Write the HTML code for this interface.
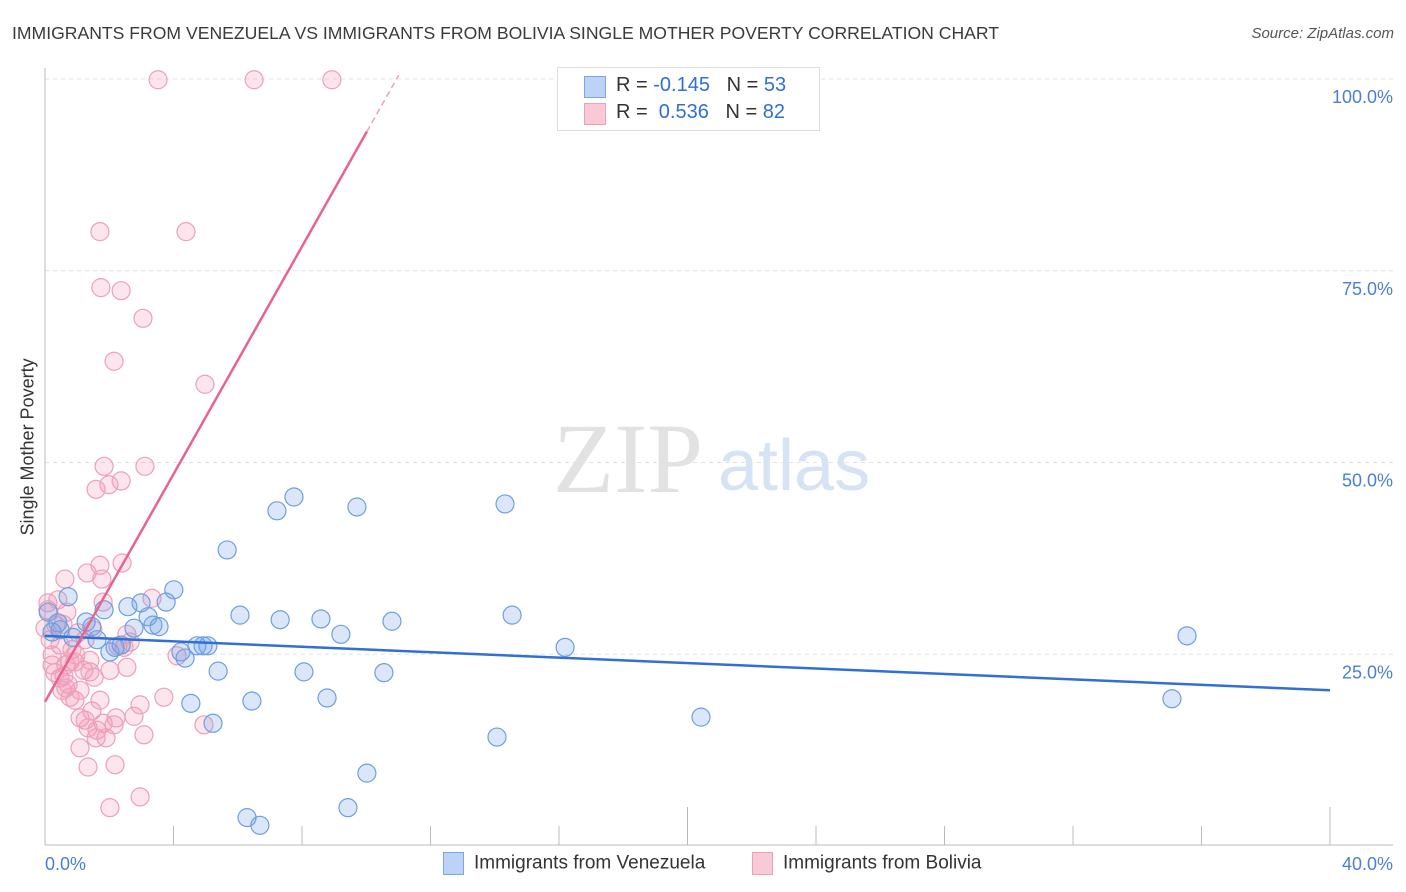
<!DOCTYPE html>
<html><head><meta charset="utf-8">
<style>
body{margin:0;background:#fff;font-family:"Liberation Sans",sans-serif;}
#wrap{position:relative;width:1406px;height:892px;overflow:hidden;}
.t{position:absolute;white-space:nowrap;}
</style></head>
<body>
<div id="wrap">
<div class="t" style="left:12px;top:23px;font-size:17.6px;color:#3a3a3a;">IMMIGRANTS FROM VENEZUELA VS IMMIGRANTS FROM BOLIVIA SINGLE MOTHER POVERTY CORRELATION CHART</div>
<div class="t" style="right:12px;top:25px;font-size:15px;color:#555;font-style:italic;">Source: ZipAtlas.com</div>
<svg id="svg" width="1406" height="892" style="position:absolute;left:0;top:0"></svg>
</div>
<script>
const xTicks=[0,4,8,12,16,20,24,28,32,36,40];
const yTicks=[25,50,75,100];
const yTickLabels=["25.0%","50.0%","75.0%","100.0%"];
const venX=[0.72,0.40,0.87,1.28,1.46,1.62,1.84,2.02,2.18,2.37,2.58,2.77,2.99,3.21,3.36,3.55,3.77,4.01,4.23,4.36,4.54,4.73,4.92,5.07,5.23,5.39,5.67,6.07,6.44,6.29,6.69,7.22,7.32,7.75,8.06,8.59,8.78,9.21,9.43,9.71,10.02,10.55,10.80,14.07,14.32,14.54,16.19,20.42,35.08,35.55,0.22,0.47,0.1];
const venY=[32.5,29.1,27.2,29.2,28.6,26.9,30.8,25.3,25.9,26.2,31.2,28.4,31.7,29.9,28.8,28.6,31.8,33.4,25.3,24.5,18.6,26.1,26.1,26.1,16.0,22.8,38.6,30.1,18.9,3.7,2.7,43.7,29.5,45.5,22.7,29.6,19.3,27.6,5.0,44.2,9.5,22.6,29.3,14.2,44.6,30.1,25.9,16.8,19.2,27.4,27.9,28.2,30.5];
const bolX=[3.52,6.51,8.93,1.71,4.39,1.74,2.37,3.05,2.15,4.98,1.84,3.11,1.99,1.59,2.37,1.31,1.71,0.62,1.77,2.40,3.33,0.09,1.81,0.68,1.49,2.55,0.16,0.34,0.47,0,2.65,1.03,2.46,2.27,0.96,0.78,0.65,0.93,1.21,1.40,1.53,0.31,0.47,0.59,0.72,0.53,0.78,0.93,2.55,1.09,1.25,1.46,1.34,1.62,1.59,1.81,2.15,1.90,2.21,2.77,2.96,3.08,3.70,4.11,4.95,1.09,1.34,2.18,2.02,2.96,0.56,0.09,0.22,0.40,1.25,0.84,2.02,1.09,0.65,1.71,0.22,1.40];
const bolY=[99.9,99.9,99.9,80.1,80.1,72.8,72.4,68.8,63.2,60.2,49.5,49.5,47.1,46.5,47.6,35.6,36.6,34.8,34.8,36.9,32.3,31.7,31.8,30.5,28.2,27.6,26.9,28.8,26.2,28.4,26.6,27.8,25.9,26.1,24.9,24.0,23.6,24.0,22.9,22.7,22.0,22.6,21.9,22.2,21.1,20.3,19.4,19.0,23.3,16.7,16.4,17.6,15.4,15.1,14.1,16.0,15.8,14.1,16.7,16.9,18.4,14.5,19.4,24.8,15.8,12.8,10.3,10.6,5.0,6.4,28.9,30.8,24.9,32.1,26.9,25.6,22.9,20.3,20.6,19.0,23.6,24.2];
const venTrend=[27.4,20.3]; // y at x=0, x=40
const bolTrend=[18.8,7.42]; // intercept, slope

const NS="http://www.w3.org/2000/svg";
const svg=document.getElementById('svg');
const X=v=>45+v/40*1285;
const Y=v=>846-v*7.67;
function mk(tag,a,p){const e=document.createElementNS(NS,tag);for(const k in a)e.setAttribute(k,a[k]);(p||svg).appendChild(e);return e;}

yTicks.forEach((t,i)=>{
  const g=mk('line',{x1:45,x2:1393,y1:Y(t),y2:Y(t),stroke:'#e2e2e2','stroke-dasharray':'4,4'});
  
  
  const tx=mk('text',{x:1393,y:Y(t)+24,'text-anchor':'end','font-size':18,fill:'#4a7fd4','font-family':'Liberation Sans, sans-serif'});
  tx.textContent=yTickLabels[i];
  
  
});
const ax=mk('line',{x1:45,x2:1393,y1:845,y2:845,stroke:'#bbb'});


const ay=mk('line',{x1:45,x2:45,y1:68,y2:845,stroke:'#bbb'});


xTicks.forEach((t,i)=>{
  const big=(t===20||t===40);
  const tk=mk('line',{x1:X(t),x2:X(t),y1:big?807:826,y2:845,stroke:'#bbb'});
  
  
});
[[0,'0.0%','start',45],[40,'40.0%','end',1393]].forEach(d=>{
  const tx=mk('text',{x:d[3],y:870,'text-anchor':d[2],'font-size':18,fill:'#4a7fd4','font-family':'Liberation Sans, sans-serif'});
  tx.textContent=d[1];
  
  
});
const wm=mk('text',{x:553,y:492,'font-size':100,fill:'#e2e2e2','font-family':'Liberation Serif, serif'});
wm.textContent='ZIP';


const wm2=mk('text',{x:718,y:490,'font-size':72,fill:'#d6e3f5','font-family':'Liberation Sans, sans-serif'});
wm2.textContent='atlas';


bolX.forEach((v,i)=>{
  const c=mk('circle',{cx:X(v),cy:Y(bolY[i]),r:9,fill:'rgba(242,150,180,0.25)',stroke:'#eca0ba','stroke-width':1.2});
  
  
});
venX.forEach((v,i)=>{
  const c=mk('circle',{cx:X(v),cy:Y(venY[i]),r:9,fill:'rgba(110,160,230,0.25)',stroke:'#6d9fe0','stroke-width':1.2});
  
  
});
const bt=mk('line',{x1:X(0),y1:Y(venTrend[0]),x2:X(40),y2:Y(venTrend[1]),stroke:'#2f6fd6','stroke-width':2.5});


const xs=10.02, xe=(100.5-bolTrend[0])/bolTrend[1];
const pt=mk('line',{x1:X(0),y1:Y(bolTrend[0]),x2:X(xs),y2:Y(bolTrend[0]+bolTrend[1]*xs),stroke:'#e8638f','stroke-width':2.5});


const pd=mk('line',{x1:X(xs),y1:Y(bolTrend[0]+bolTrend[1]*xs),x2:X(xe),y2:Y(100.5),stroke:'#eca0ba','stroke-width':1.5,'stroke-dasharray':'6,4'});


</script>
<div class="t" style="left:-52px;top:445px;font-size:18px;color:#333;transform:rotate(-90deg);transform-origin:center;width:160px;text-align:center;">Single Mother Poverty</div>
<div style="position:absolute;left:557px;top:67px;width:261px;height:62px;border:1px solid #ddd;background:#fff;font-size:20px;">
  <div style="position:absolute;left:26px;top:8px;width:20px;height:20px;background:#bcd3f5;border:1px solid #7ba6e6;"></div>
  <div class="t" style="left:58px;top:6px;color:#333;">R = <span style="color:#2f6fd6">-0.145</span>&nbsp;&nbsp;&nbsp;N = <span style="color:#2f6fd6">53</span></div>
  <div style="position:absolute;left:26px;top:35px;width:20px;height:20px;background:#f9c9d8;border:1px solid #eca0ba;"></div>
  <div class="t" style="left:58px;top:33px;color:#333;">R = &nbsp;<span style="color:#2f6fd6">0.536</span>&nbsp;&nbsp;&nbsp;N = <span style="color:#2f6fd6">82</span></div>
</div>
<div style="position:absolute;left:443px;top:852px;font-size:19px;color:#333;">
  <div style="position:absolute;left:0;top:0;white-space:nowrap;"><span style="display:inline-block;width:19px;height:21px;background:#bcd3f5;border:1px solid #7ba6e6;vertical-align:middle;margin-right:10px;"></span>Immigrants from Venezuela</div>
  <div style="position:absolute;left:309px;top:0;white-space:nowrap;"><span style="display:inline-block;width:19px;height:21px;background:#f9c9d8;border:1px solid #eca0ba;vertical-align:middle;margin-right:10px;"></span>Immigrants from Bolivia</div>
</div>
</body></html>
